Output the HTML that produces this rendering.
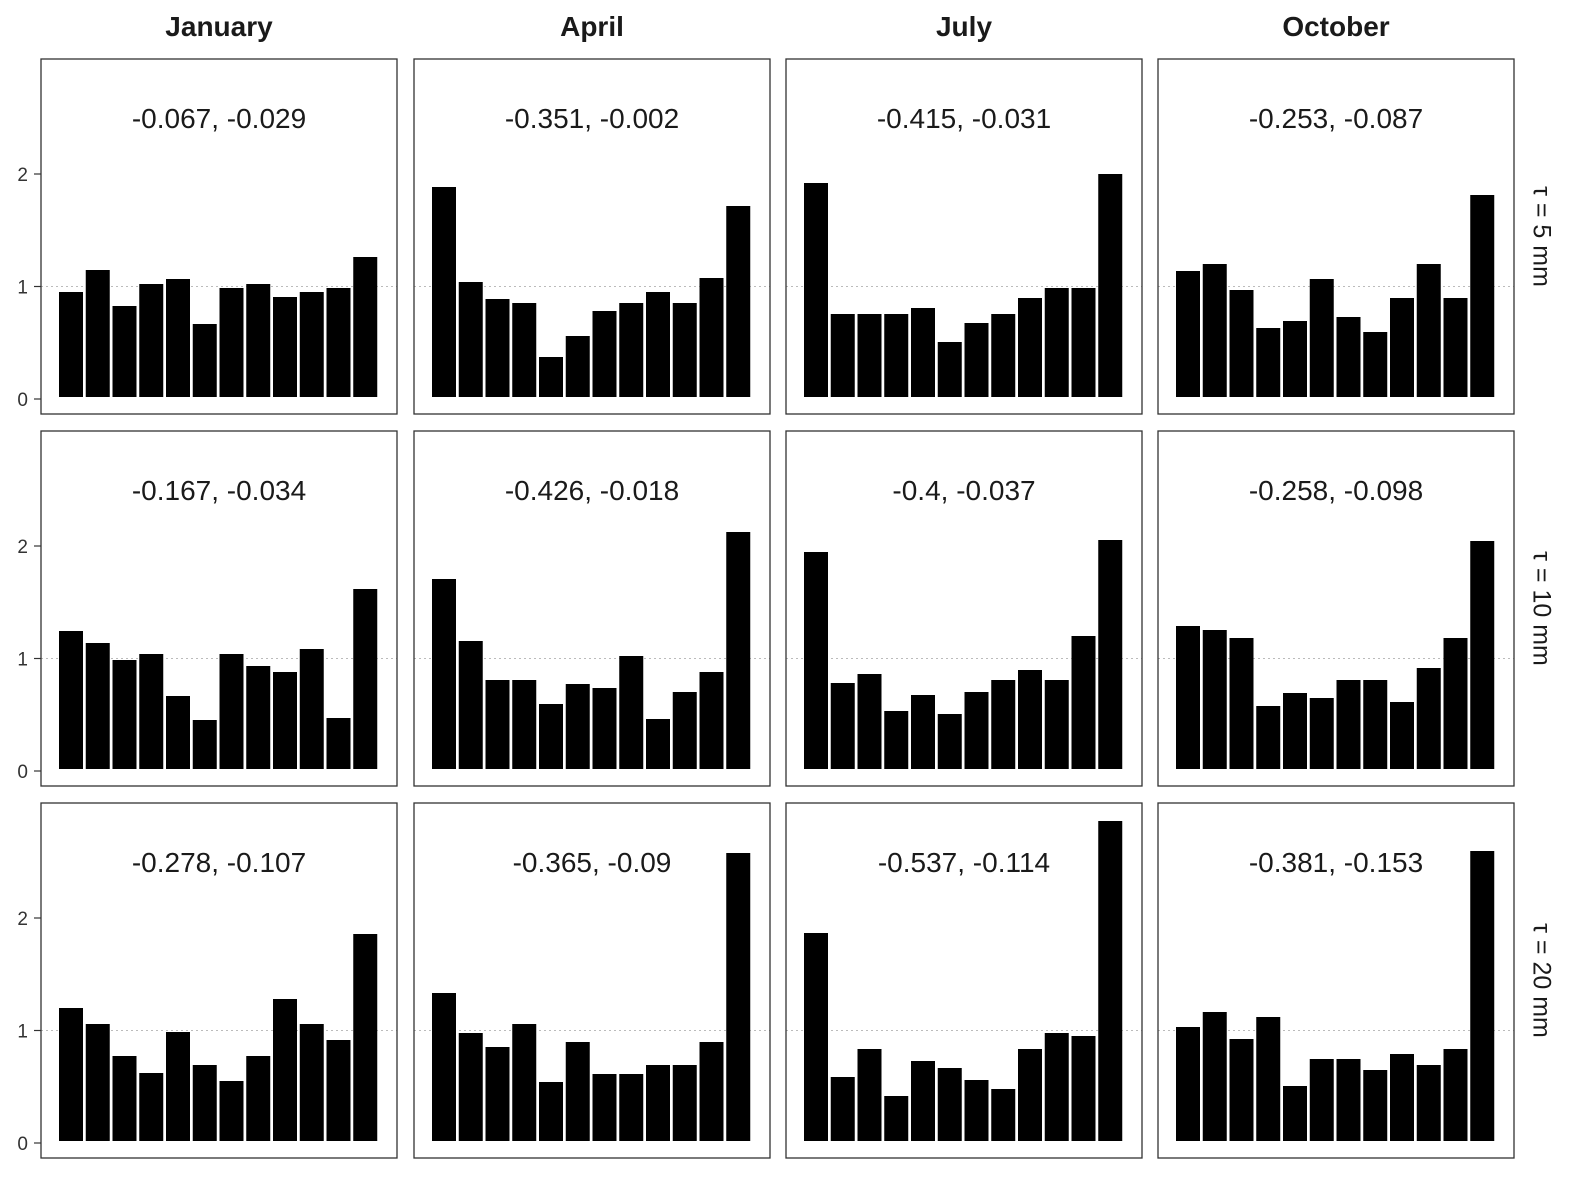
<!DOCTYPE html>
<html><head><style>body{margin:0;background:#fff}</style></head><body>
<svg id="s" width="1577" height="1182" xmlns="http://www.w3.org/2000/svg" font-family="Liberation Sans, sans-serif"></svg>
<script>
const s=document.getElementById('s');
const cols=[41,414,786,1158],rows=[59,431,803],base=[399,771,1143],pw=356,ph=355;
const titles=['January','April','July','October'];
const labels=[["-0.067, -0.029","-0.351, -0.002","-0.415, -0.031","-0.253, -0.087"],
["-0.167, -0.034","-0.426, -0.018","-0.4, -0.037","-0.258, -0.098"],
["-0.278, -0.107","-0.365, -0.09","-0.537, -0.114","-0.381, -0.153"]];
const tops=[
[[292,270,306,284,279,324,288,284,297,292,288,257],[187,282,299,303,357,336,311,303,292,303,278,206],[183,314,314,314,308,342,323,314,298,288,288,174],[271,264,290,328,321,279,317,332,298,264,298,195]],
[[631,643,660,654,696,720,654,666,672,649,718,589],[579,641,680,680,704,684,688,656,719,692,672,532],[552,683,674,711,695,714,692,680,670,680,636,540],[626,630,638,706,693,698,680,680,702,668,638,541]],
[[1008,1024,1056,1073,1032,1065,1081,1056,999,1024,1040,934],[993,1033,1047,1024,1082,1042,1074,1074,1065,1065,1042,853],[933,1077,1049,1096,1061,1068,1080,1089,1049,1033,1036,821],[1027,1012,1039,1017,1086,1059,1059,1070,1054,1065,1049,851]]];
const strips=['τ = 5 mm','τ = 10 mm','τ = 20 mm'];
let h='';
titles.forEach((t,c)=>{h+=`<text x="${cols[c]+pw/2}" y="36" text-anchor="middle" font-size="28" font-weight="bold" fill="#1a1a1a">${t}</text>`;});
for(let r=0;r<3;r++){
  const b=base[r];
  [0,1,2].forEach(v=>{const y=b-v*112.5;h+=`<text x="28" y="${y+7}" text-anchor="end" font-size="19" fill="#333">${v}</text><line x1="34" x2="41" y1="${y}" y2="${y}" stroke="#333" stroke-width="1.2"/>`;});
  for(let c=0;c<4;c++){
    const x0=cols[c],y0=rows[r];
    h+=`<line x1="${x0}" x2="${x0+pw}" y1="${b-112.5}" y2="${b-112.5}" stroke="#bbb" stroke-width="1" stroke-dasharray="2,3"/>`;
    tops[r][c].forEach((t,i)=>{const x=x0+18+i*26.75;h+=`<rect x="${x}" y="${t}" width="24" height="${b-2-t}" fill="#000"/>`;});
    h+=`<rect x="${x0}" y="${y0}" width="${pw}" height="${ph}" fill="none" stroke="#333" stroke-width="1.3"/>`;
    h+=`<text x="${x0+pw/2}" y="${y0+69}" text-anchor="middle" font-size="28" fill="#1a1a1a">${labels[r][c]}</text>`;
  }
  const cy=rows[r]+ph/2;
  h+=`<text x="1540" y="${cy}" transform="rotate(90 1540 ${cy})" text-anchor="middle" dominant-baseline="middle" font-size="25" fill="#1a1a1a">${strips[r]}</text>`;
}
s.innerHTML=h;
</script>
</body></html>
